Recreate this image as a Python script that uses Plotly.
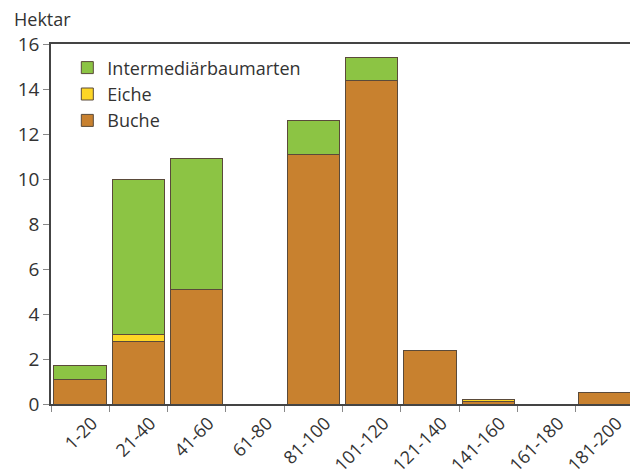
import plotly.graph_objects as go

categories = ["1-20", "21-40", "41-60", "61-80", "81-100", "101-120",
              "121-140", "141-160", "161-180", "181-200"]
buche = [1.1, 2.8, 5.07, 0, 11.1, 14.4, 2.4, 0.1, 0, 0.5]
eiche = [0, 0.3, 0, 0, 0, 0, 0, 0.1, 0, 0]
intermediaer = [0.63, 6.9, 5.86, 0, 1.5, 1.0, 0, 0, 0, 0]

series = [
    ("Buche", buche, "#C8812F"),
    ("Eiche", eiche, "#FDD626"),
    ("Intermediärbaumarten", intermediaer, "#8CC444"),
]

fig = go.Figure()
for name, vals, col in series:
    fig.add_trace(go.Bar(
        x=categories, y=vals, name=name,
        marker=dict(color=col, line=dict(color="#5a4a3a", width=1)),
    ))

font = "Open Sans, Segoe UI, sans-serif"
# page body has an 8px default margin, so sizes are reduced by 8
fig.update_layout(
    width=630, height=467,
    barmode="stack", bargap=0.1,
    paper_bgcolor="white", plot_bgcolor="white",
    margin=dict(l=43, r=4, t=36, b=71, autoexpand=False),
    font=dict(family=font, size=17, color="#333333"),
    legend=dict(
        x=0.028, y=0.985, xanchor="left", yanchor="top",
        traceorder="reversed", bgcolor="rgba(0,0,0,0)",
        font=dict(size=18), itemwidth=30, tracegroupgap=0,
    ),
    showlegend=True,
    annotations=[dict(text="Hektar", x=0, y=1, xref="paper", yref="paper",
                      xanchor="left", yanchor="bottom", xshift=-38, yshift=12,
                      borderpad=0,
                      showarrow=False, font=dict(size=18, family=font, color="#333333"))],
)
fig.update_xaxes(
    type="category", tickangle=-45, tickson="boundaries",
    ticks="outside", ticklen=6, tickcolor="#888888",
    showline=True, linecolor="#444444", linewidth=1.5, mirror=True,
    showgrid=False, tickfont=dict(size=18), automargin=False,
    ticklabelshift=12,
)
fig.update_yaxes(
    range=[0, 16], dtick=2, ticks="outside", ticklen=6, tickcolor="#888888",
    showline=True, linecolor="#444444", linewidth=1.5, mirror=True,
    showgrid=False, zeroline=False, tickfont=dict(size=19), automargin=False,
)
fig.write_html("out.html")
